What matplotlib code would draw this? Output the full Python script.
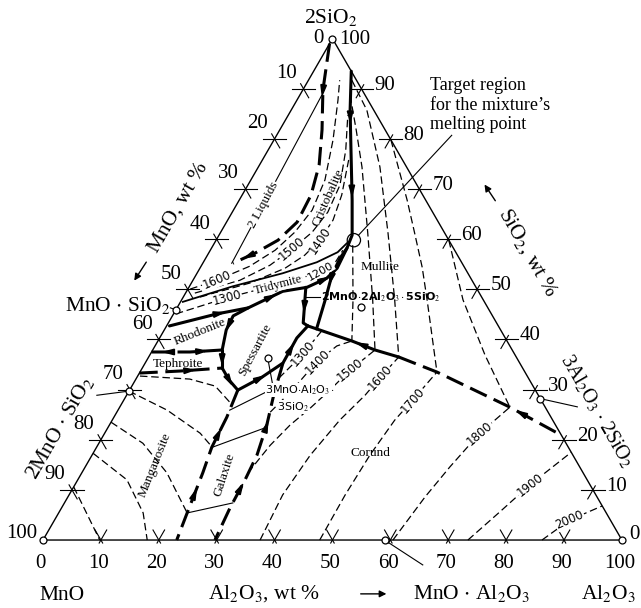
import numpy as np
import matplotlib
matplotlib.use("Agg")
import matplotlib.pyplot as plt
from matplotlib.patches import Polygon, Circle

plt.rcParams['font.family'] = ['Liberation Serif', 'DejaVu Serif']
plt.rcParams['mathtext.fontset'] = 'stix'

# ---------------- data: compositions as (Al2O3 wt%, SiO2 wt%) ----------------
ticks = [10, 20, 30, 40, 50, 60, 70, 80, 90]
bottom_ticklabels = [0, 10, 20, 30, 40, 50, 60, 70, 80, 90, 100]

# boundary (univariant) curves
b_two_liq = [(0, 99), (3.5, 89.7), (7.3, 81.8), (10.3, 74.8), (11.9, 68.8), (12.2, 63.4),
             (10.7, 59.8), (8.0, 57.2), (5.2, 55.2)]
two_liq_line = [(3.8, 88.7), (5.0, 55.2)]
b_cristo_mull = [(6.5, 93.5), (10.2, 85.7), (14.3, 77.8), (19.5, 67.8), (23.0, 60.8), (23.4, 58.2),
                 (23.2, 56.2), (23.5, 52.8), (24.8, 47.9), (26.2, 42.1)]
b_cristo_trid = [(0.4, 47.5), (7.5, 50.6), (14.8, 53.2), (19.6, 55.4), (22.2, 57.4), (22.9, 59.2)]
b_trid_low = [(0.5, 42.7), (7.5, 45.1), (12.3, 46.3), (16.6, 49.6), (20.4, 50.4), (22.9, 52.2),
              (23.7, 54.2), (23.4, 58.2)]
b_trid_spess = [(20.2, 50.4), (23.3, 43.3), (24.4, 42.7)]
b_rhod_spess = [(12.3, 46.3), (10.5, 44.7), (10.7, 41.9), (12.0, 37.9)]
b_rhod_teph = [(0, 37.5), (6.6, 37.5), (12.0, 37.9)]
b_j2_j3 = [(12.0, 37.9), (13.8, 34.3)]
b_teph_mang = [(0, 33.3), (6.8, 33.7), (13.8, 34.3)]
b_j3_j4 = [(13.8, 34.3), (16.2, 31.9), (18.7, 29.9)]
b_j4_j1 = [(18.7, 29.9), (21.6, 32.5), (23.8, 35.3), (23.7, 40.3), (24.4, 42.7)]
b_mang_gal = [(18.7, 29.9), (19.5, 24.5), (19.9, 18.5), (20.9, 13.4), (22.2, 5.4), (23.1, 0)]
b_gal_cor = [(23.8, 35.3), (25.4, 28.9), (27.2, 22.9), (28.5, 16.9), (28.9, 12.0), (29.1, 6.4), (29.7, 0)]
b_mull_cor_a = [(24.4, 42.7), (33.5, 39.7), (38.4, 37.9), (43.2, 36.5)]
b_mull_cor_b = [(43.2, 36.5), (51.3, 33.5), (67.4, 26.5), (79.1, 20.9)]

# isotherms, upper-left (cristobalite / tridymite fields)
iso_up_1600 = [(0.4, 50.05), (4.1, 51.8), (8.4, 54.6), (11.2, 57.8), (12.8, 61.4), (13.6, 65.8),
               (12.8, 71.8), (10.2, 79.8), (7.1, 87.7), (5.4, 91.7)]
iso_up_1500 = [(1.6, 49.25), (8.1, 51.8), (11.8, 54.8), (14.0, 58.0), (15.8, 61.4), (16.5, 65.4),
               (15.9, 70.8), (13.4, 77.8), (10.3, 84.7)]
iso_up_1400 = [(2.9, 48.45), (10.1, 51.25), (14.7, 54.2), (16.8, 56.8), (17.9, 59.8), (18.2, 63.8),
               (17.2, 68.8), (14.9, 75.8)]
iso_trid = [(0.4, 45.1), (7.6, 48.3), (16.4, 51.4), (20.7, 53.2), (22.8, 55.2), (22.9, 57.8)]

# isotherms, mullite field
iso_mul_1400 = [(24.1, 58.8), (29.6, 47.9), (33.5, 39.7)]
iso_mul_1500 = [(8.7, 88.7), (13.2, 81.8), (17.9, 74.4), (25.5, 61.2), (33.0, 47.9), (38.4, 37.9)]
iso_mul_1600 = [(7.5, 91.7), (13.1, 85.7), (21.0, 74.4), (29.0, 61.2), (36.8, 47.9), (43.2, 36.5)]
iso_mul_1700 = [(20.2, 79.8), (29.0, 67.8), (33.6, 61.2), (38.3, 54.4), (42.4, 47.9), (51.3, 33.5)]
iso_mul_1800 = [(40.2, 59.8), (48.6, 47.9), (57.9, 36.9), (67.4, 26.5)]

# isotherms, corundum field
iso_cor_1300 = [(24.6, 32.3), (25.8, 35.5), (26.7, 38.9), (27.3, 41.7)]
iso_cor_1400 = [(26.5, 25.5), (28.1, 29.9), (29.0, 33.5), (30.0, 36.3), (31.4, 38.7), (33.5, 39.7)]
iso_cor_1500 = [(28.7, 13.4), (29.8, 18.9), (31.2, 22.9), (33.0, 26.3), (34.6, 29.9), (36.1, 33.9),
                (38.4, 37.9)]
iso_cor_1600 = [(37.5, 0), (36.9, 9.0), (37.7, 16.9), (39.3, 23.9), (41.2, 28.9), (42.0, 32.3),
                (43.2, 36.5)]
iso_cor_1700 = [(47.8, 0), (47.7, 9.0), (48.0, 16.9), (48.8, 23.9), (49.9, 27.9), (51.3, 33.5)]
iso_cor_1800 = [(60.45, 0), (61.7, 8.6), (63.0, 14.6), (64.8, 21.3), (67.4, 26.5)]
iso_cor_1900 = [(73.4, 0), (76.1, 5.6), (78.6, 11.0), (82.5, 17.5)]
iso_cor_2000 = [(86.2, 0), (89.0, 4.0), (93.2, 6.8)]

# isotherms, manganosite / galaxite fields
iso_mang_0 = [(0.4, 32.7), (9.3, 32.1), (14.4, 30.7), (18.5, 27.5)]
iso_mang_1 = [(0, 29.7), (8.5, 25.9), (16.5, 21.3), (20.0, 18.5)]
iso_mang_2 = [(0, 23.5), (7.6, 19.3), (14.7, 13.4), (22.2, 5.4)]
iso_mang_3 = [(0, 17.3), (8.5, 12.0), (14.6, 5.4), (18.0, 0)]
iso_mang_4 = [(0, 10.6), (9.8, 0)]
iso_gal_1 = [(19.3, 25.9), (25.0, 30.5)]
iso_gal_2 = [(20.0, 18.5), (27.4, 22.5)]
iso_gal_3 = [(22.2, 5.4), (29.1, 7.4)]

# compounds
vertices = [(0, 0), (100, 0), (0, 100)]
comp_MnO_SiO2 = (0, 45.9)
comp_2MnO_SiO2 = (0, 29.7)
comp_MnO_Al2O3 = (59.0, 0)
comp_mullite = (71.8, 28.2)
comp_spessartite = (20.6, 36.4)
comp_2_2_5 = (31.6, 46.5)
target_point = (23.8, 59.8)

S3 = np.sqrt(3) / 2


def cart(curve):
    a = np.asarray(curve, float).reshape(-1, 2)
    return a[:, 0] + a[:, 1] / 2, a[:, 1] * S3


def cpt(p):
    x, y = cart([p])
    return x[0], y[0]


fig = plt.figure(figsize=(6.41, 6.08), dpi=100)
ax = fig.add_axes([0, 0, 1, 1])
ax.set_xlim(-7.43, 103.3)
ax.set_ylim(-11.74, 93.27)
ax.axis('off')

# triangle
tx, ty = cart([(0, 0), (100, 0), (0, 100), (0, 0)])
ax.plot(tx, ty, color='k', lw=1.0, zorder=3)

# ticks
def seg(p, d, a, b, **kw):
    ax.plot([p[0] - d[0] * b, p[0] + d[0] * a], [p[1] - d[1] * b, p[1] + d[1] * a], color='k', lw=0.8, zorder=3)

for v in ticks:
    p = cpt((0, 100 - v))          # left edge, MnO = v
    seg(p, (1, 0), 2.0, 2.0)
    seg(p, (0.5, -S3), 1.8, 1.0)
    p = cpt((v, 0))                # bottom edge, Al2O3 = v
    seg(p, (0.5, S3), 2.0, 0.6)
    seg(p, (-0.5, S3), 2.0, 0.6)
    p = cpt((100 - v, v))          # right edge, SiO2 = v
    seg(p, (-1, 0), 2.0, 2.0)
    seg(p, (-0.5, -S3), 1.8, 0.8)

TICKFS = 15
for v in ticks:
    x, y = cpt((0, 100 - v))
    ax.text(x - 2.9, y + 2.6, str(v), fontsize=TICKFS, ha='center', va='center')
    x, y = cpt((100 - v, v))
    ax.text(x + 4.1, y + 0.6, str(v), fontsize=TICKFS, ha='center', va='center')
for v in bottom_ticklabels:
    x, y = cpt((v, 0))
    ax.text(x - 0.4, y - 4.0, str(v), fontsize=TICKFS, ha='center', va='center')
ax.text(-3.6, 1.2, '100', fontsize=TICKFS, ha='center', va='center')
ax.text(47.5, 86.7, '0', fontsize=TICKFS, ha='center', va='center')
ax.text(53.9, 86.4, '100', fontsize=TICKFS, ha='center', va='center')
ax.text(102.1, 0.9, '0', fontsize=TICKFS, ha='center', va='center')

# styles
THICK_S = dict(color='k', lw=2.2, solid_capstyle='round', zorder=4)
THICK_D = dict(color='k', lw=2.2, dashes=(6, 2.5), zorder=4)
THIN_D = dict(color='k', lw=0.9, dashes=(6, 3), zorder=2)
THIN_S = dict(color='k', lw=0.8, zorder=2)


def draw(curve, style):
    x, y = cart(curve)
    ax.plot(x, y, **style)


def arrows(curve, fracs, rev=False, size=1.5):
    x, y = cart(curve)
    pts = np.column_stack([x, y])
    d = np.diff(pts, axis=0)
    L = np.hypot(d[:, 0], d[:, 1])
    cum = np.concatenate([[0], np.cumsum(L)])
    for f in fracs:
        s = f * cum[-1]
        i = int(np.clip(np.searchsorted(cum, s) - 1, 0, len(L) - 1))
        t = d[i] / L[i]
        p = pts[i] + t * (s - cum[i])
        if rev:
            t = -t
        n = np.array([-t[1], t[0]])
        tip = p + t * size * 0.6
        base = p - t * size * 0.6
        ax.add_patch(Polygon([tip, base + n * size * 0.32, base - n * size * 0.32],
                             closed=True, color='k', zorder=6))


ISOFONT = ['DejaVu Sans']


def curve_label(curve, t, text, fs=8.5, family=ISOFONT, bg=True, **kw):
    x, y = cart(curve)
    i = int(t)
    fr = t - i
    if i >= len(x) - 1:
        i, fr = len(x) - 2, 1.0
    px = x[i] + (x[i + 1] - x[i]) * fr
    py = y[i] + (y[i + 1] - y[i]) * fr
    ang = np.degrees(np.arctan2(y[i + 1] - y[i], x[i + 1] - x[i]))
    if ang > 90:
        ang -= 180
    if ang < -90:
        ang += 180
    bbox = dict(fc='white', ec='none', pad=0.4) if bg else None
    ax.text(px, py, text, rotation=ang, rotation_mode='anchor', ha='center', va='center',
            fontsize=fs, family=family, bbox=bbox, zorder=7, **kw)


# isotherms
for c in [iso_up_1600, iso_up_1500, iso_up_1400, iso_trid,
          iso_mul_1400, iso_mul_1500, iso_mul_1600, iso_mul_1700, iso_mul_1800,
          iso_cor_1300, iso_cor_1400, iso_cor_1500, iso_cor_1600, iso_cor_1700,
          iso_cor_1800, iso_cor_1900, iso_cor_2000,
          iso_mang_0, iso_mang_1, iso_mang_2, iso_mang_3, iso_mang_4]:
    draw(c, THIN_D)
for c in [iso_gal_1, iso_gal_2, iso_gal_3, two_liq_line]:
    draw(c, THIN_S)
draw(b_cristo_trid, dict(color='k', lw=1.3, zorder=3))

# boundaries
for c in [b_cristo_mull, b_trid_low, b_trid_spess, b_rhod_spess, b_j2_j3, b_j3_j4, b_j4_j1, b_mull_cor_a]:
    draw(c, THICK_S)
for c in [b_two_liq, b_rhod_teph, b_teph_mang, b_mang_gal, b_gal_cor, b_mull_cor_b]:
    draw(c, THICK_D)

arrows(b_two_liq, [0.18, 0.93])
arrows(b_cristo_mull, [0.17, 0.45, 0.8])
arrows(b_trid_low, [0.25, 0.52, 0.8])
arrows(b_trid_spess, [0.45])
arrows(b_rhod_spess, [0.5])
arrows(b_rhod_teph, [0.25], rev=True)
arrows(b_rhod_teph, [0.7])
arrows(b_j2_j3, [0.5])
arrows(b_teph_mang, [0.6])
arrows(b_j3_j4, [0.5])
arrows(b_j4_j1, [0.25, 0.7])
arrows(b_mang_gal, [0.3, 0.7], rev=True)
arrows(b_gal_cor, [0.35, 0.7], rev=True)
arrows(b_mull_cor_a, [0.6], rev=True)
arrows(b_mull_cor_b, [0.75], rev=True)

# isotherm labels
curve_label(iso_up_1600, 1.0, '1600')
curve_label(iso_up_1500, 3.0, '1500')
curve_label(iso_up_1400, 4.0, '1400')
curve_label(iso_trid, 1.0, '1300')
curve_label(iso_trid, 1.85, 'Tridymite', fs=9, family=['Liberation Serif'])
curve_label(iso_trid, 3.2, '1200', fs=8)
curve_label(iso_cor_1300, 1.5, '1300')
curve_label(iso_cor_1400, 2.7, '1400')
curve_label(iso_cor_1500, 5.0, '1500')
curve_label(iso_cor_1600, 5.0, '1600')
curve_label(iso_cor_1700, 4.0, '1700')
curve_label(iso_cor_1800, 3.0, '1800')
curve_label(iso_cor_1900, 2.0, '1900')
curve_label(iso_cor_2000, 1.0, '2000')
curve_label(two_liq_line, 0.65, '2 Liquids', fs=9.5, family=['Liberation Serif'])

# compound points
for p in vertices + [comp_MnO_SiO2, comp_2MnO_SiO2, comp_MnO_Al2O3, comp_mullite,
                     comp_spessartite, comp_2_2_5]:
    x, y = cpt(p)
    ax.plot(x, y, 'o', ms=5, mfc='white', mec='k', mew=0.9, zorder=8)
tx0, ty0 = cpt(target_point)
ax.add_patch(Circle((tx0, ty0), 1.15, fc='none', ec='k', lw=0.9, zorder=8))

# field labels
FS = 9.5
ax.text(49.2, 59.2, 'Cristobalite', fontsize=FS, rotation=66, ha='center', va='center', zorder=7)
ax.text(58.2, 47.1, 'Mullite', fontsize=FS, ha='center', va='center')
ax.text(27.1, 35.9, 'Rhodonite', fontsize=FS, rotation=22, ha='center', va='center')
ax.text(23.3, 30.4, 'Tephroite', fontsize=FS, ha='center', va='center')
ax.text(36.6, 32.8, 'Spessartite', fontsize=FS, rotation=62, ha='center', va='center')
ax.text(19.3, 13.0, 'Manganosite', fontsize=FS, rotation=68, ha='center', va='center')
ax.text(31.4, 11.2, 'Galaxite', fontsize=FS, rotation=72, ha='center', va='center')
ax.text(56.5, 15.0, 'Corund', fontsize=FS, ha='center', va='center')

# compound labels inside
ax.plot([45.2, 47.8], [42.0, 42.0], color='k', lw=0.8)
ax.text(48.0, 42.0, r'2MnO$\cdot$2Al$_2$O$_3\cdot$5SiO$_2$', fontsize=8, family=ISOFONT,
        fontweight='bold', ha='left', va='center')
sx, sy = cpt(comp_spessartite)
ax.plot([sx, 39.6], [sy, 27.2], color='k', lw=0.8)
ax.text(44.4, 25.9, r'3MnO$\cdot$Al$_2$O$_3\cdot$', fontsize=8, family=ISOFONT, ha='center',
        va='center', bbox=dict(fc='white', ec='none', pad=0.1), zorder=7)
ax.text(43.2, 23.0, r'3SiO$_2$', fontsize=8, family=ISOFONT, ha='center', va='center',
        bbox=dict(fc='white', ec='none', pad=0.1), zorder=7)

# outer labels
TF = 15.5
ax.text(49.7, 90.2, r'2SiO$_2$', fontsize=TF, ha='center', va='center')
ax.text(3.3, -9.5, 'MnO', fontsize=TF, ha='center', va='center')
ax.text(38.2, -9.2, r'Al$_2$O$_3$, wt %', fontsize=TF, ha='center', va='center')
ax.annotate('', xy=(59.8, -9.3), xytext=(54.4, -9.3),
            arrowprops=dict(arrowstyle='-|>', color='k', lw=1.0, mutation_scale=10))
ax.text(74.1, -9.2, r'MnO $\cdot$ Al$_2$O$_3$', fontsize=TF, ha='center', va='center')
ax.text(97.6, -9.2, r'Al$_2$O$_3$', fontsize=TF, ha='center', va='center')

ax.text(23.3, 57.5, 'MnO, wt %', fontsize=TF, rotation=60, ha='center', va='center')
ax.annotate('', xy=(15.5, 44.4), xytext=(18.1, 48.4),
            arrowprops=dict(arrowstyle='-|>', color='k', lw=1.0, mutation_scale=10))
ax.text(83.8, 49.6, r'SiO$_2$, wt %', fontsize=TF, rotation=-60, ha='center', va='center')
ax.annotate('', xy=(76.0, 61.8), xytext=(78.4, 58.2),
            arrowprops=dict(arrowstyle='-|>', color='k', lw=1.0, mutation_scale=10))

x1, y1 = cpt(comp_MnO_SiO2)
ax.text(22.0, 40.5, r'MnO $\cdot$ SiO$_2$', fontsize=TF, ha='right', va='center')
ax.plot([22.0, x1], [40.1, y1], color='k', lw=0.8)
x2, y2 = cpt(comp_2MnO_SiO2)
ax.text(2.9, 19.5, r'2MnO $\cdot$ SiO$_2$', fontsize=TF, rotation=60, ha='center', va='center')
ax.plot([9.3, x2], [25.0, y2], color='k', lw=0.8)
x3, y3 = cpt(comp_mullite)
ax.text(95.6, 22.3, r'3Al$_2$O$_3$ $\cdot$ 2SiO$_2$', fontsize=14.5, rotation=-60, ha='center', va='center')
ax.plot([x3, 92.3], [y3, 23.0], color='k', lw=0.8)
x4, y4 = cpt(comp_MnO_Al2O3)
ax.plot([x4, 65.6], [y4, -4.3], color='k', lw=0.8)

# target annotation
ex, ey = 70.6, 69.9
dvec = np.array([ex - tx0, ey - ty0])
dvec /= np.hypot(*dvec)
ax.plot([tx0 + 1.15 * dvec[0], ex], [ty0 + 1.15 * dvec[1], ey], color='k', lw=0.8)
ax.text(66.8, 75.1, "Target region\nfor the mixture\u2019s\nmelting point", fontsize=13,
        ha='left', va='center', linespacing=1.2)

fig.savefig('out.png', dpi=100)
